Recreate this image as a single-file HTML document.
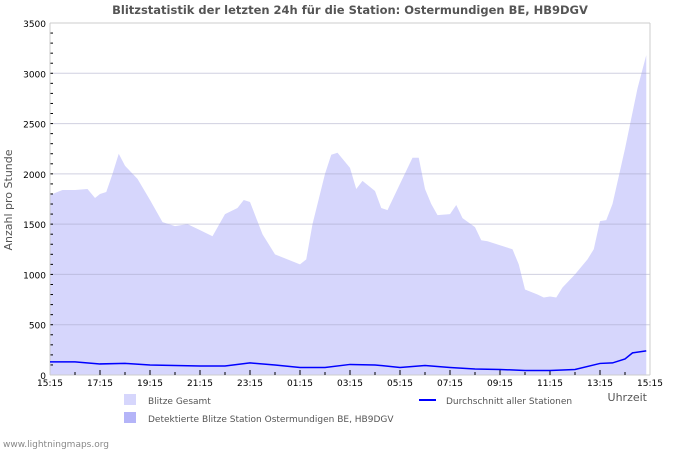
<!DOCTYPE html>
<html><head><meta charset="utf-8"><style>
body{margin:0;background:#fff;width:700px;height:450px;overflow:hidden}
svg{font-family:"DejaVu Sans","Liberation Sans",sans-serif}
</style></head><body>
<svg id="chart" width="700" height="450">
<text x="350" y="14" text-anchor="middle" font-size="11.5" font-weight="bold" fill="#555">Blitzstatistik der letzten 24h für die Station: Ostermundigen BE, HB9DGV</text>
<text transform="translate(12,200) rotate(-90)" text-anchor="middle" font-size="11" fill="#555">Anzahl pro Stunde</text>
<text x="647" y="401" text-anchor="end" font-size="11" fill="#555">Uhrzeit</text>
<g id="plot"></g>
<rect x="124" y="394" width="12" height="11" fill="#d6d6fc"/>
<text x="148" y="404" font-size="9" fill="#555">Blitze Gesamt</text>
<rect x="124" y="412" width="12" height="11" fill="#b4b4f8"/>
<text x="148" y="422" font-size="9" fill="#555">Detektierte Blitze Station Ostermundigen BE, HB9DGV</text>
<line x1="419" y1="400" x2="436" y2="400" stroke="#0000ff" stroke-width="2"/>
<text x="446" y="404" font-size="9" fill="#555">Durchschnitt aller Stationen</text>
<text x="3" y="447" font-size="9" fill="#888">www.lightningmaps.org</text>
</svg>
<script>
const totalHours=[0,0.5,1,1.5,1.8,2,2.25,2.5,2.75,3,3.5,4,4.5,5,5.5,6,6.5,7,7.5,7.75,8,8.5,9,9.5,10,10.25,10.5,11,11.25,11.5,12,12.25,12.5,13,13.25,13.5,14,14.5,14.75,15,15.25,15.5,16,16.25,16.5,17,17.25,17.5,18,18.5,18.75,19,19.5,19.75,20,20.25,20.5,21,21.5,21.75,22,22.25,22.5,23,23.5,23.85];
const totalValues=[1790,1840,1840,1850,1760,1800,1820,2000,2200,2080,1950,1740,1520,1480,1500,1440,1380,1600,1660,1740,1720,1400,1200,1150,1100,1150,1500,2000,2190,2210,2060,1850,1930,1830,1660,1640,1900,2160,2160,1850,1700,1590,1600,1690,1560,1470,1340,1330,1290,1250,1100,850,800,770,780,770,870,1000,1150,1250,1530,1540,1700,2250,2850,3180];
const avgHours=[0,1,2,3,4,5,6,7,8,9,10,11,12,13,14,15,16,17,18,19,20,21,22,22.5,23,23.3,23.85];
const avgValues=[130,130,110,115,100,95,90,90,120,100,75,75,105,100,75,95,75,60,55,45,45,55,115,120,160,220,240];
const yTicks=[0,500,1000,1500,2000,2500,3000,3500];
const xLabels=["15:15","17:15","19:15","21:15","23:15","01:15","03:15","05:15","07:15","09:15","11:15","13:15","15:15"];
const X0=50,X1=650,Y0=375,Y1=23;
const xs=h=>X0+h*(X1-X0)/24;
const ys=v=>Y0-v*(Y0-Y1)/3500;
const g=document.getElementById('plot');
const NS='http://www.w3.org/2000/svg';
function mk(t,a){const e=document.createElementNS(NS,t);for(const k in a)e.setAttribute(k,a[k]);g.appendChild(e);return e;}
let d='M'+xs(totalHours[0])+','+Y0;
totalHours.forEach((h,i)=>{d+=' L'+xs(h)+','+ys(totalValues[i]);});
d+=' L'+xs(totalHours[totalHours.length-1])+','+Y0+' Z';
const area=mk('path',{d:d,fill:'#d6d6fc'});


yTicks.forEach(v=>{
 if(v>0){const gl=mk('line',{x1:X0,x2:X1,y1:ys(v),y2:ys(v),stroke:'rgba(170,170,200,0.55)','stroke-width':1});
 
 }
 const t=mk('text',{x:X0-4,y:ys(v)+4,'text-anchor':'end','font-size':'9',fill:'#000'});t.textContent=v;
 
 
});
for(let v=100;v<3500;v+=100){mk('line',{x1:X0,x2:X0+3,y1:ys(v),y2:ys(v),stroke:'#000'});}
mk('line',{x1:X1,x2:X1,y1:Y1,y2:Y0,stroke:'#ccc'});
mk('line',{x1:X0,x2:X1,y1:Y1,y2:Y1,stroke:'#ccc'});
mk('line',{x1:X0,x2:X0,y1:Y1,y2:Y0,stroke:'#ccc'});
mk('line',{x1:X0,x2:X1,y1:Y0,y2:Y0,stroke:'#ccc'});
for(let h=1;h<24;h++){mk('line',{x1:xs(h),x2:xs(h),y1:Y0,y2:Y0-(h%2==0?5:3),stroke:'#000'});}
xLabels.forEach((l,i)=>{const t=mk('text',{x:xs(i*2),y:Y0+11,'text-anchor':'middle','font-size':'9',fill:'#000'});t.textContent=l;
 
 });
const pts=avgHours.map((h,i)=>xs(h)+','+ys(avgValues[i])).join(' ');
const ln=mk('polyline',{points:pts,fill:'none',stroke:'#0000ff','stroke-width':1.5});


</script>
</body></html>
